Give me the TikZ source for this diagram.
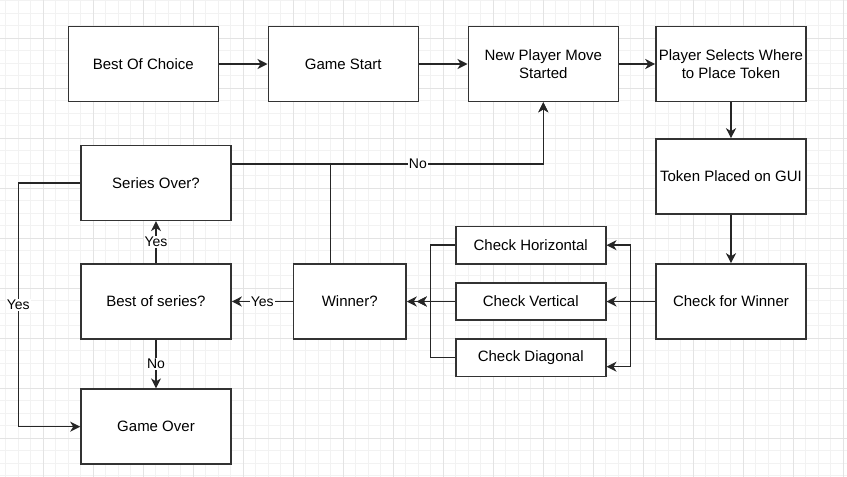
\documentclass[tikz,border=0pt]{standalone}
\usepackage{fontspec}
\setmainfont{Liberation Sans}
\usetikzlibrary{arrows.meta}
\newfontfamily\diagfont{Liberation Sans}
\tikzset{
  box/.style={draw=black!80, line width=1.6pt, fill=white, minimum width=150pt, minimum height=75pt, inner sep=0pt, align=center, font=\diagfont\fontsize{15}{17.5}\selectfont},
  smallbox/.style={box, minimum height=37.5pt},
  arr/.style={draw=black!85, line width=1.5pt, -{Stealth[length=10pt,width=10pt,inset=3pt]}},
  lbl/.style={fill=white, inner sep=1pt, font=\diagfont\fontsize{14}{16}\selectfont},
  minorgrid/.style={draw=black!5, line width=0.8pt},
  majorgrid/.style={draw=black!11, line width=0.9pt}
}
\begin{document}
\begin{tikzpicture}[x=1pt,y=-1pt]
\useasboundingbox (0,0) rectangle (847,477);
\fill[white] (0,0) rectangle (847,477);
% grid
\foreach \i in {0,...,68} {
  \draw[minorgrid] ({5.8+12.5*\i},0) -- ({5.8+12.5*\i},477);
}
\foreach \i in {0,...,38} {
  \draw[minorgrid] (0,{0.8+12.5*\i}) -- (847,{0.8+12.5*\i});
}
\foreach \i in {0,...,16} {
  \draw[majorgrid] ({43.3+50*\i},0) -- ({43.3+50*\i},477);
}
\foreach \i in {0,...,9} {
  \draw[majorgrid] (0,{38.3+50*\i}) -- (847,{38.3+50*\i});
}
% nodes
\node[box] (boc) at (143.3,64) {Best Of Choice};
\node[box] (gs) at (343.3,64) {Game Start};
\node[box] (npm) at (543.3,64) {New Player Move\\Started};
\node[box] (pst) at (731,64) {Player Selects Where\\to Place Token};
\node[box] (tpg) at (731,176.5) {Token Placed on GUI};
\node[box] (cfw) at (731,301.5) {Check for Winner};
\node[smallbox] (ch) at (530.7,245.2) {Check Horizontal};
\node[smallbox] (cv) at (530.7,301.5) {Check Vertical};
\node[smallbox] (cd) at (530.7,357.7) {Check Diagonal};
\node[box, minimum width=112.5pt] (win) at (349.7,301.5) {Winner?};
\node[box] (bos) at (156,301.5) {Best of series?};
\node[box] (so) at (156,182.8) {Series Over?};
\node[box] (go) at (156,426.7) {Game Over};
% helper coordinates
\coordinate (rs) at (630.7,301.5);
\coordinate (ls) at (430.7,301.5);
\coordinate (c1) at (18.3,182.8);
\coordinate (c2) at (18.3,426.7);
\coordinate (w1) at (330.7,164);
\coordinate (w2) at (543.3,164);
% connectors
\draw[arr] (boc.east) -- (gs.west);
\draw[arr] (gs.east) -- (npm.west);
\draw[arr] (npm.east) -- (pst.west);
\draw[arr] (pst.south) -- (tpg.north);
\draw[arr] (tpg.south) -- (cfw.north);
\draw[arr] (cfw.west) -- (cv.east);
\draw[arr] (cfw.west) -- (rs) |- (ch.east);
\draw[arr] (cfw.west) -- (rs) |- ([yshift=-9pt]cd.east);
\draw[arr] (ch.west) -| (ls) -- ([xshift=10pt]win.east);
\draw[arr] (cd.west) -| (ls) -- ([xshift=10pt]win.east);
\draw[arr] (cv.west) -- (win.east);
\draw[arr] (win.west) -- node[lbl]{Yes} (bos.east);
\draw[arr] (bos.north) -- node[lbl]{Yes} (so.south);
\draw[arr] (bos.south) -- node[lbl]{No} (go.north);
\draw[arr] (so.west) -- (c1) -- node[lbl]{Yes} (c2) -- (go.west);
\draw[arr] (so.east |- w1) -- (w2) -- (npm.south);
\draw[arr] ([xshift=-19pt]win.north) -- (w1) -- node[lbl, pos=0.41]{No} (w2) -- (npm.south);
\end{tikzpicture}
\end{document}
